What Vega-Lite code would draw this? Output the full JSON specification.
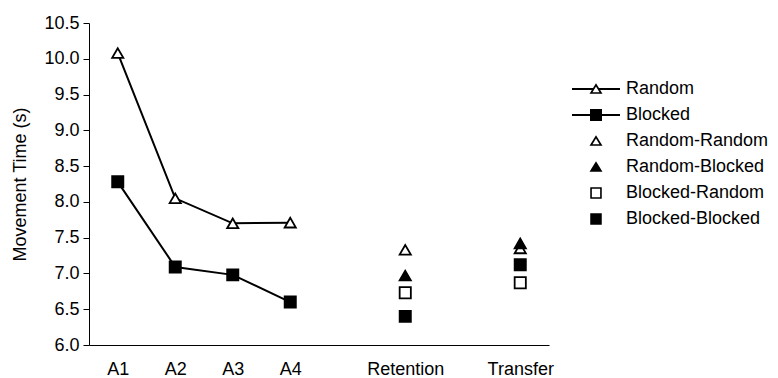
{
  "$schema": "https://vega.github.io/schema/vega-lite/v6.json",
  "width": 460,
  "height": 322,
  "autosize": {"type": "none"},
  "padding": {"left": 89, "top": 23, "right": 229, "bottom": 33},
  "background": "white",
  "config": {
    "view": {"stroke": null},
    "font": "Liberation Sans",
    "axis": {"labelFont": "Liberation Sans", "titleFont": "Liberation Sans"},
    "legend": {
      "title": null,
      "orient": "none",
      "legendX": 483,
      "legendY": 53.35,
      "padding": 0,
      "symbolSize": 2304,
      "clipHeight": 25.3,
      "rowPadding": 0,
      "labelFontSize": 18,
      "labelFont": "Liberation Sans",
      "labelColor": "black",
      "labelOffset": 6,
      "symbolStrokeWidth": 0,
      "symbolFillColor": "black",
      "symbolOpacity": 1
    }
  },
  "data": {
    "values": [
      {"phase": "A1", "group": "Random", "time": 10.08},
      {"phase": "A2", "group": "Random", "time": 8.05},
      {"phase": "A3", "group": "Random", "time": 7.70},
      {"phase": "A4", "group": "Random", "time": 7.71},
      {"phase": "A1", "group": "Blocked", "time": 8.28},
      {"phase": "A2", "group": "Blocked", "time": 7.09},
      {"phase": "A3", "group": "Blocked", "time": 6.98},
      {"phase": "A4", "group": "Blocked", "time": 6.60},
      {"phase": "Retention", "group": "Random-Random", "time": 7.33},
      {"phase": "Retention", "group": "Random-Blocked", "time": 6.97},
      {"phase": "Retention", "group": "Blocked-Random", "time": 6.73},
      {"phase": "Retention", "group": "Blocked-Blocked", "time": 6.40},
      {"phase": "Transfer", "group": "Random-Random", "time": 7.35},
      {"phase": "Transfer", "group": "Random-Blocked", "time": 7.42},
      {"phase": "Transfer", "group": "Blocked-Random", "time": 6.87},
      {"phase": "Transfer", "group": "Blocked-Blocked", "time": 7.12}
    ]
  },
  "encoding": {
    "x": {
      "field": "phase",
      "type": "ordinal",
      "scale": {
        "type": "point",
        "domain": ["A1", "A2", "A3", "A4", "gap1", "Retention", "gap2", "Transfer"],
        "padding": 0.5
      },
      "axis": {
        "values": ["A1", "A2", "A3", "A4", "Retention", "Transfer"],
        "title": null,
        "ticks": false,
        "tickSize": 0,
        "labelAngle": 0,
        "labelPadding": 15,
        "labelFontSize": 18,
        "labelColor": "black",
        "domainColor": "black",
        "domainWidth": 1,
        "grid": false
      }
    },
    "y": {
      "field": "time",
      "type": "quantitative",
      "scale": {"domain": [6, 10.5], "nice": false, "zero": false},
      "axis": {
        "values": [6, 6.5, 7, 7.5, 8, 8.5, 9, 9.5, 10, 10.5],
        "format": ".1f",
        "grid": false,
        "tickSize": 6,
        "tickColor": "black",
        "domainColor": "black",
        "labelFontSize": 18,
        "labelColor": "black",
        "labelPadding": 4,
        "title": "Movement Time (s)",
        "titleFontSize": 18,
        "titleFontWeight": "normal",
        "titleColor": "black",
        "titlePadding": 14
      }
    }
  },
  "layer": [
    {
      "transform": [{"filter": {"field": "group", "oneOf": ["Random", "Blocked"]}}],
      "mark": {"type": "line", "color": "black", "strokeWidth": 2},
      "encoding": {"detail": {"field": "group"}}
    },
    {
      "mark": {"type": "point", "filled": true, "stroke": "black", "strokeWidth": 1.8, "size": 125, "opacity": 1},
      "encoding": {
        "shape": {
          "field": "group",
          "scale": {
            "domain": ["Random", "Blocked", "Random-Random", "Random-Blocked", "Blocked-Random", "Blocked-Blocked"],
            "range": ["triangle-up", "square", "triangle-up", "triangle-up", "square", "square"]
          },
          "legend": null
        },
        "fill": {
          "field": "group",
          "scale": {
            "domain": ["Random", "Blocked", "Random-Random", "Random-Blocked", "Blocked-Random", "Blocked-Blocked"],
            "range": ["white", "black", "white", "black", "white", "black"]
          },
          "legend": null
        }
      }
    },
    {
      "mark": {"type": "point", "filled": true, "fill": "black", "strokeWidth": 0, "opacity": 0},
      "encoding": {
        "shape": {
          "field": "group",
          "scale": {
            "domain": ["Random", "Blocked", "Random-Random", "Random-Blocked", "Blocked-Random", "Blocked-Blocked"],
            "range": [
              "M-1,-0.04H-0.126V0.04H-1ZM0.126,-0.04H1V0.04H0.126ZM0,-0.235L0.27,0.2L-0.27,0.2ZM0,-0.1L-0.145,0.133L0.145,0.133Z",
              "M-1,-0.04H1V0.04H-1ZM-0.25,-0.25H0.25V0.25H-0.25Z",
              "M0,-0.235L0.27,0.2L-0.27,0.2ZM0,-0.1L-0.145,0.133L0.145,0.133Z",
              "M0,-0.235L0.27,0.2L-0.27,0.2Z",
              "M-0.24,-0.24H0.24V0.24H-0.24ZM-0.173,-0.173V0.173H0.173V-0.173Z",
              "M-0.24,-0.24H0.24V0.24H-0.24Z"
            ]
          },
          "legend": {}
        }
      }
    }
  ],
  "resolve": {"scale": {"shape": "independent"}}
}
